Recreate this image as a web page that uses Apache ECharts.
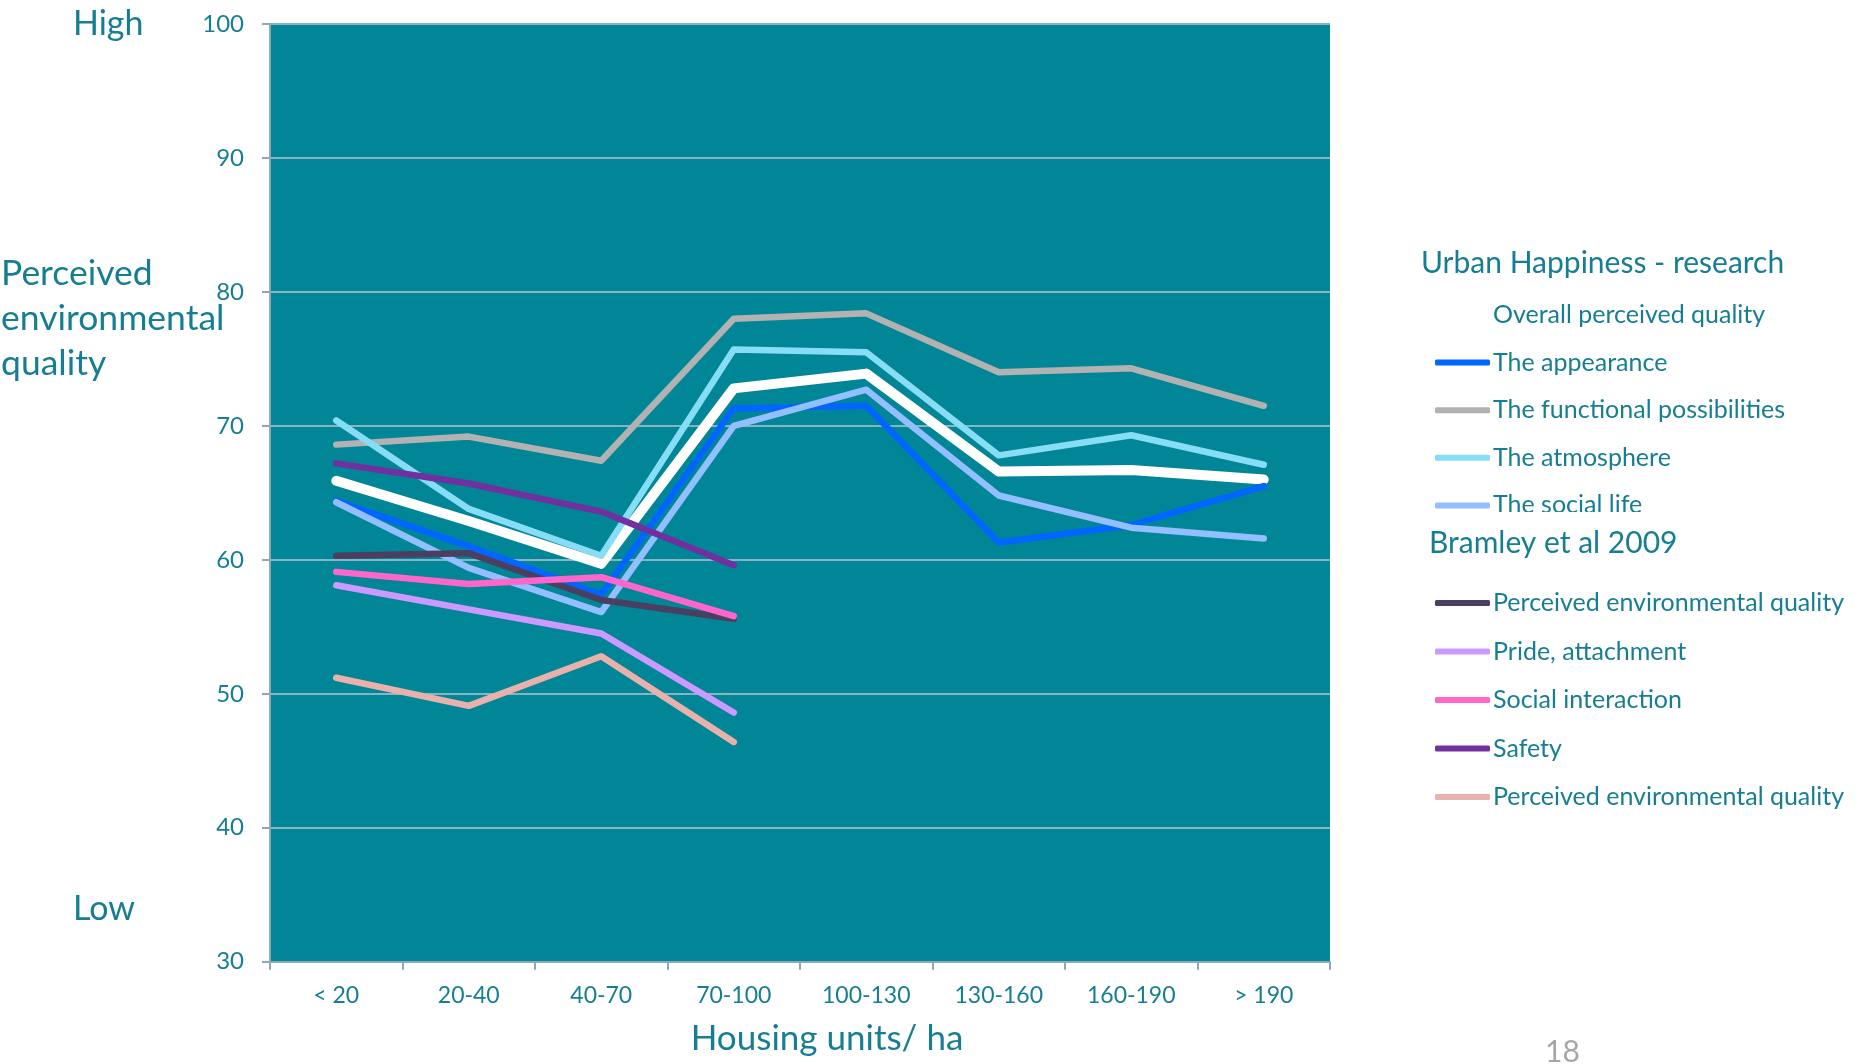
<!DOCTYPE html>
<html>
<head>
<meta charset="utf-8">
<script src="https://cdn.jsdelivr.net/npm/echarts@6/dist/echarts.min.js"></script>
<style>
html,body{margin:0;padding:0;background:#fff;}
#chart{width:1864px;height:1064px;}
</style>
</head>
<body>
<div id="chart"></div>
<script>
var categories = ['< 20', '20-40', '40-70', '70-100', '100-130', '130-160', '160-190', '> 190'];

var overallQuality = [65.9, 62.9, 59.7, 72.8, 73.9, 66.6, 66.7, 66.0];
var appearance = [64.4, 61.0, 57.4, 71.3, 71.5, 61.3, 62.6, 65.5];
var functionalPossibilities = [68.6, 69.2, 67.4, 78.0, 78.4, 74.0, 74.3, 71.5];
var atmosphere = [70.4, 63.8, 60.3, 75.7, 75.5, 67.8, 69.3, 67.1];
var socialLife = [64.3, 59.4, 56.1, 70.0, 72.7, 64.8, 62.4, 61.6];

var bramleyPerceived = [60.3, 60.5, 57.0, 55.6, null, null, null, null];
var prideAttachment = [58.1, 56.3, 54.5, 48.6, null, null, null, null];
var socialInteraction = [59.1, 58.2, 58.7, 55.8, null, null, null, null];
var safety = [67.2, 65.7, 63.6, 59.6, null, null, null, null];
var bramleyPerceived2 = [51.2, 49.1, 52.8, 46.4, null, null, null, null];

var yTicks = [30, 40, 50, 60, 70, 80, 90, 100];

var TEXT = '#167E92';
var FONT = 'Lato';

function mkSeries(name, data, color, width) {
  return {
    name: name,
    type: 'line',
    data: data,
    showSymbol: false,
    symbol: 'none',
    connectNulls: false,
    lineStyle: { color: color, width: width, cap: 'round', join: 'round' },
    itemStyle: { color: color },
    emphasis: { disabled: true },
    animation: false
  };
}

var chart = echarts.init(document.getElementById('chart'), null, { renderer: 'canvas' });

var legendCommon = {
  orient: 'vertical',
  left: 1435,
  itemWidth: 55,
  itemHeight: 6,
  icon: 'roundRect',
  itemStyle: { borderWidth: 0 },
  textStyle: { color: TEXT, fontFamily: FONT, fontSize: 25, lineHeight: 26, padding: [0, 0, 0, -2] },
  selectedMode: false,
  formatter: function (n) { return n.replace(' (2)', ''); }
};

var option = {
  backgroundColor: '#ffffff',
  animation: false,
  grid: {
    left: 270, right: 534, top: 24, bottom: 102.3,
    outerBoundsMode: 'none',
    containLabel: false,
    show: true, backgroundColor: '#008697', borderWidth: 0
  },
  xAxis: {
    type: 'category',
    data: categories,
    boundaryGap: true,
    axisLine: { show: true, lineStyle: { color: '#8EA8B8', width: 2 } },
    axisTick: { show: true, length: 8, lineStyle: { color: '#8EA8B8', width: 2 } },
    axisLabel: { color: TEXT, fontFamily: FONT, fontSize: 23, margin: 22 },
    name: 'Housing units/ ha',
    nameLocation: 'middle',
    nameGap: 60,
    nameTextStyle: { color: TEXT, fontFamily: FONT, fontSize: 35, padding: [0, 0, 0, 54] }
  },
  yAxis: {
    type: 'value',
    min: yTicks[0],
    max: yTicks[yTicks.length - 1],
    interval: 10,
    axisLine: { show: true, lineStyle: { color: '#8EA8B8', width: 2 } },
    axisTick: { show: true, length: 8, lineStyle: { color: '#8EA8B8', width: 2 } },
    axisLabel: { color: TEXT, fontFamily: FONT, fontSize: 24, margin: 26 },
    splitLine: { show: true, lineStyle: { color: '#8AB3C2', width: 2 } }
  },
  title: [
    { text: 'Urban Happiness - research', left: 1421, top: 248,
      textStyle: { color: TEXT, fontFamily: FONT, fontSize: 30, fontWeight: 'normal' }, padding: 0 },
    { text: 'Bramley et al 2009', left: 1429, top: 528,
      textStyle: { color: TEXT, fontFamily: FONT, fontSize: 30, fontWeight: 'normal' }, padding: 0 }
  ],
  legend: [
    Object.assign({}, legendCommon, {
      top: 302, itemGap: 21.6, padding: 0,
      data: ['Overall perceived quality', 'The appearance', 'The functional possibilities', 'The atmosphere', 'The social life']
    }),
    Object.assign({}, legendCommon, {
      top: 590, itemGap: 22.5, padding: 0,
      data: ['Perceived environmental quality', 'Pride, attachment', 'Social interaction', 'Safety', 'Perceived environmental quality (2)']
    })
  ],
  graphic: [
    { type: 'text', left: 73, top: 7, style: { text: 'High', fill: TEXT, font: '34px ' + FONT } },
    { type: 'text', left: 73, top: 892, style: { text: 'Low', fill: TEXT, font: '34px ' + FONT } },
    { type: 'text', left: 1, top: 251, style: { text: 'Perceived\nenvironmental\nquality', fill: TEXT, font: '35.5px ' + FONT, lineHeight: 45 } },
    { type: 'text', left: 1545, top: 1037, style: { text: '18', fill: '#A6A6A6', font: '30px ' + FONT } },
    { type: 'rect', left: 1492, top: 512, z: 100, shape: { width: 240, height: 13 }, style: { fill: '#ffffff' } }
  ],
  series: [
    mkSeries('Overall perceived quality', overallQuality, '#FFFFFF', 10),
    mkSeries('The appearance', appearance, '#0066FF', 6.5),
    mkSeries('The functional possibilities', functionalPossibilities, '#B2B2B2', 6.5),
    mkSeries('The atmosphere', atmosphere, '#87DDF5', 6.5),
    mkSeries('The social life', socialLife, '#93BFFF', 6.5),
    mkSeries('Perceived environmental quality', bramleyPerceived, '#4A3F60', 6.5),
    mkSeries('Pride, attachment', prideAttachment, '#CC99FF', 6.5),
    mkSeries('Social interaction', socialInteraction, '#FF66CC', 6.5),
    mkSeries('Safety', safety, '#7030A0', 6.5),
    mkSeries('Perceived environmental quality (2)', bramleyPerceived2, '#E9B1AB', 6.5)
  ]
};

chart.setOption(option);
</script>
</body>
</html>
